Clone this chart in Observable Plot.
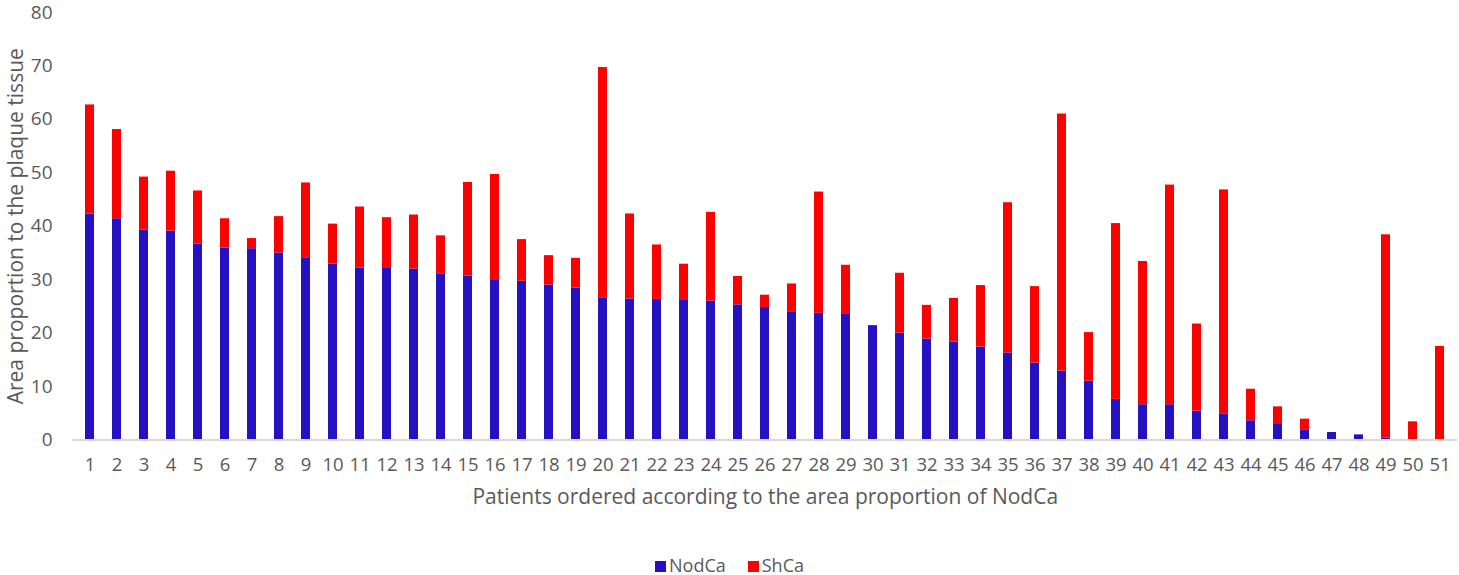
<!DOCTYPE html>
<html>
<head>
<meta charset="utf-8">
<script src="https://cdn.jsdelivr.net/npm/d3@7"></script>
<script src="https://cdn.jsdelivr.net/npm/@observablehq/plot@0.6"></script>
<style>
  body { margin: 0; background: #fff; font-family: "Open Sans", sans-serif; }
  #chart svg { display: block; }
  #legend { height: 18px; line-height: 18px; margin-top: 11px; text-align: center; font-size: 18px; color: #595959; white-space: nowrap; }
  #legend span.sw { display: inline-block; width: 11px; height: 11px; margin-right: 3px; vertical-align: 0px; }
  #legend span.item { margin: 0 11px; }
</style>
</head>
<body>
<div id="chart"></div>
<div id="legend"></div>
<script>
const patients = Array.from({length: 51}, (_, i) => String(i + 1));
const seriesNames = ["NodCa", "ShCa"];
const seriesColors = ["#2510c2", "#ff0000"];
const nodca = [42.3, 41.4, 39.3, 39.1, 36.7, 35.9, 35.8, 35.0, 34.1, 32.9,
               32.2, 32.1, 32.0, 31.0, 30.7, 30.0, 29.7, 29.0, 28.4, 26.5,
               26.4, 26.3, 26.1, 26.0, 25.3, 24.8, 24.0, 23.7, 23.5, 21.4,
               20.0, 18.9, 18.3, 17.4, 16.3, 14.4, 12.9, 11.0, 7.6, 6.6,
               6.6, 5.4, 4.8, 3.6, 2.9, 1.8, 1.4, 0.96, 0.4, 0, 0];
const shca = [20.4, 16.7, 9.9, 11.2, 9.9, 5.5, 1.9, 6.8, 14.0, 7.5,
              11.4, 9.5, 10.1, 7.2, 17.5, 19.7, 7.8, 5.5, 5.6, 43.2,
              15.9, 10.2, 6.8, 16.6, 5.3, 2.3, 5.2, 22.7, 9.2, 0,
              11.2, 6.3, 8.2, 11.5, 28.1, 14.3, 48.1, 9.1, 32.9, 26.8,
              41.1, 16.3, 42.0, 5.9, 3.3, 2.1, 0, 0, 38.0, 3.4, 17.5];
const yTicks = [0, 10, 20, 30, 40, 50, 60, 70, 80];
const xTitle = "Patients ordered according to the area proportion of NodCa";
const yTitle = "Area proportion to the plaque tissue";

const data = [];
patients.forEach((p, i) => {
  data.push({patient: p, series: "NodCa", value: nodca[i]});
  data.push({patient: p, series: "ShCa", value: shca[i]});
});

const textColor = "#595959";
const chart = Plot.plot({
  width: 1459,
  height: 545,
  marginLeft: 72.5,
  marginRight: 2,
  marginTop: 12,
  marginBottom: 105.5,
  style: {fontFamily: "Open Sans, sans-serif", color: textColor, background: "#fff"},
  x: {domain: patients, paddingInner: 0.66, paddingOuter: 0.33, label: null},
  y: {domain: [0, 80], label: null},
  color: {domain: seriesNames, range: seriesColors},
  marks: [
    Plot.barY(data, {x: "patient", y: "value", fill: "series", order: seriesNames}),
    Plot.ruleY([0], {stroke: "#d9d9d9", strokeWidth: 2}),
    Plot.axisY(yTicks, {tickSize: 0, tickPadding: 20.5, fontSize: 19, fill: textColor, label: null}),
    Plot.axisX({tickSize: 0, tickPadding: 18, fontSize: 18.5, fill: textColor, label: null}),
    Plot.text([xTitle], {frameAnchor: "bottom", dy: 64, fontSize: 21, fill: textColor}),
    Plot.text([yTitle], {frameAnchor: "left", dx: -57, rotate: -90, textAnchor: "middle", fontSize: 21, fill: textColor})
  ]
});
document.getElementById("chart").appendChild(chart);

const legend = document.getElementById("legend");
seriesNames.forEach((name, i) => {
  const item = document.createElement("span");
  item.className = "item";
  const sw = document.createElement("span");
  sw.className = "sw";
  sw.style.background = seriesColors[i];
  item.appendChild(sw);
  item.appendChild(document.createTextNode(name));
  legend.appendChild(item);
});
</script>
</body>
</html>
